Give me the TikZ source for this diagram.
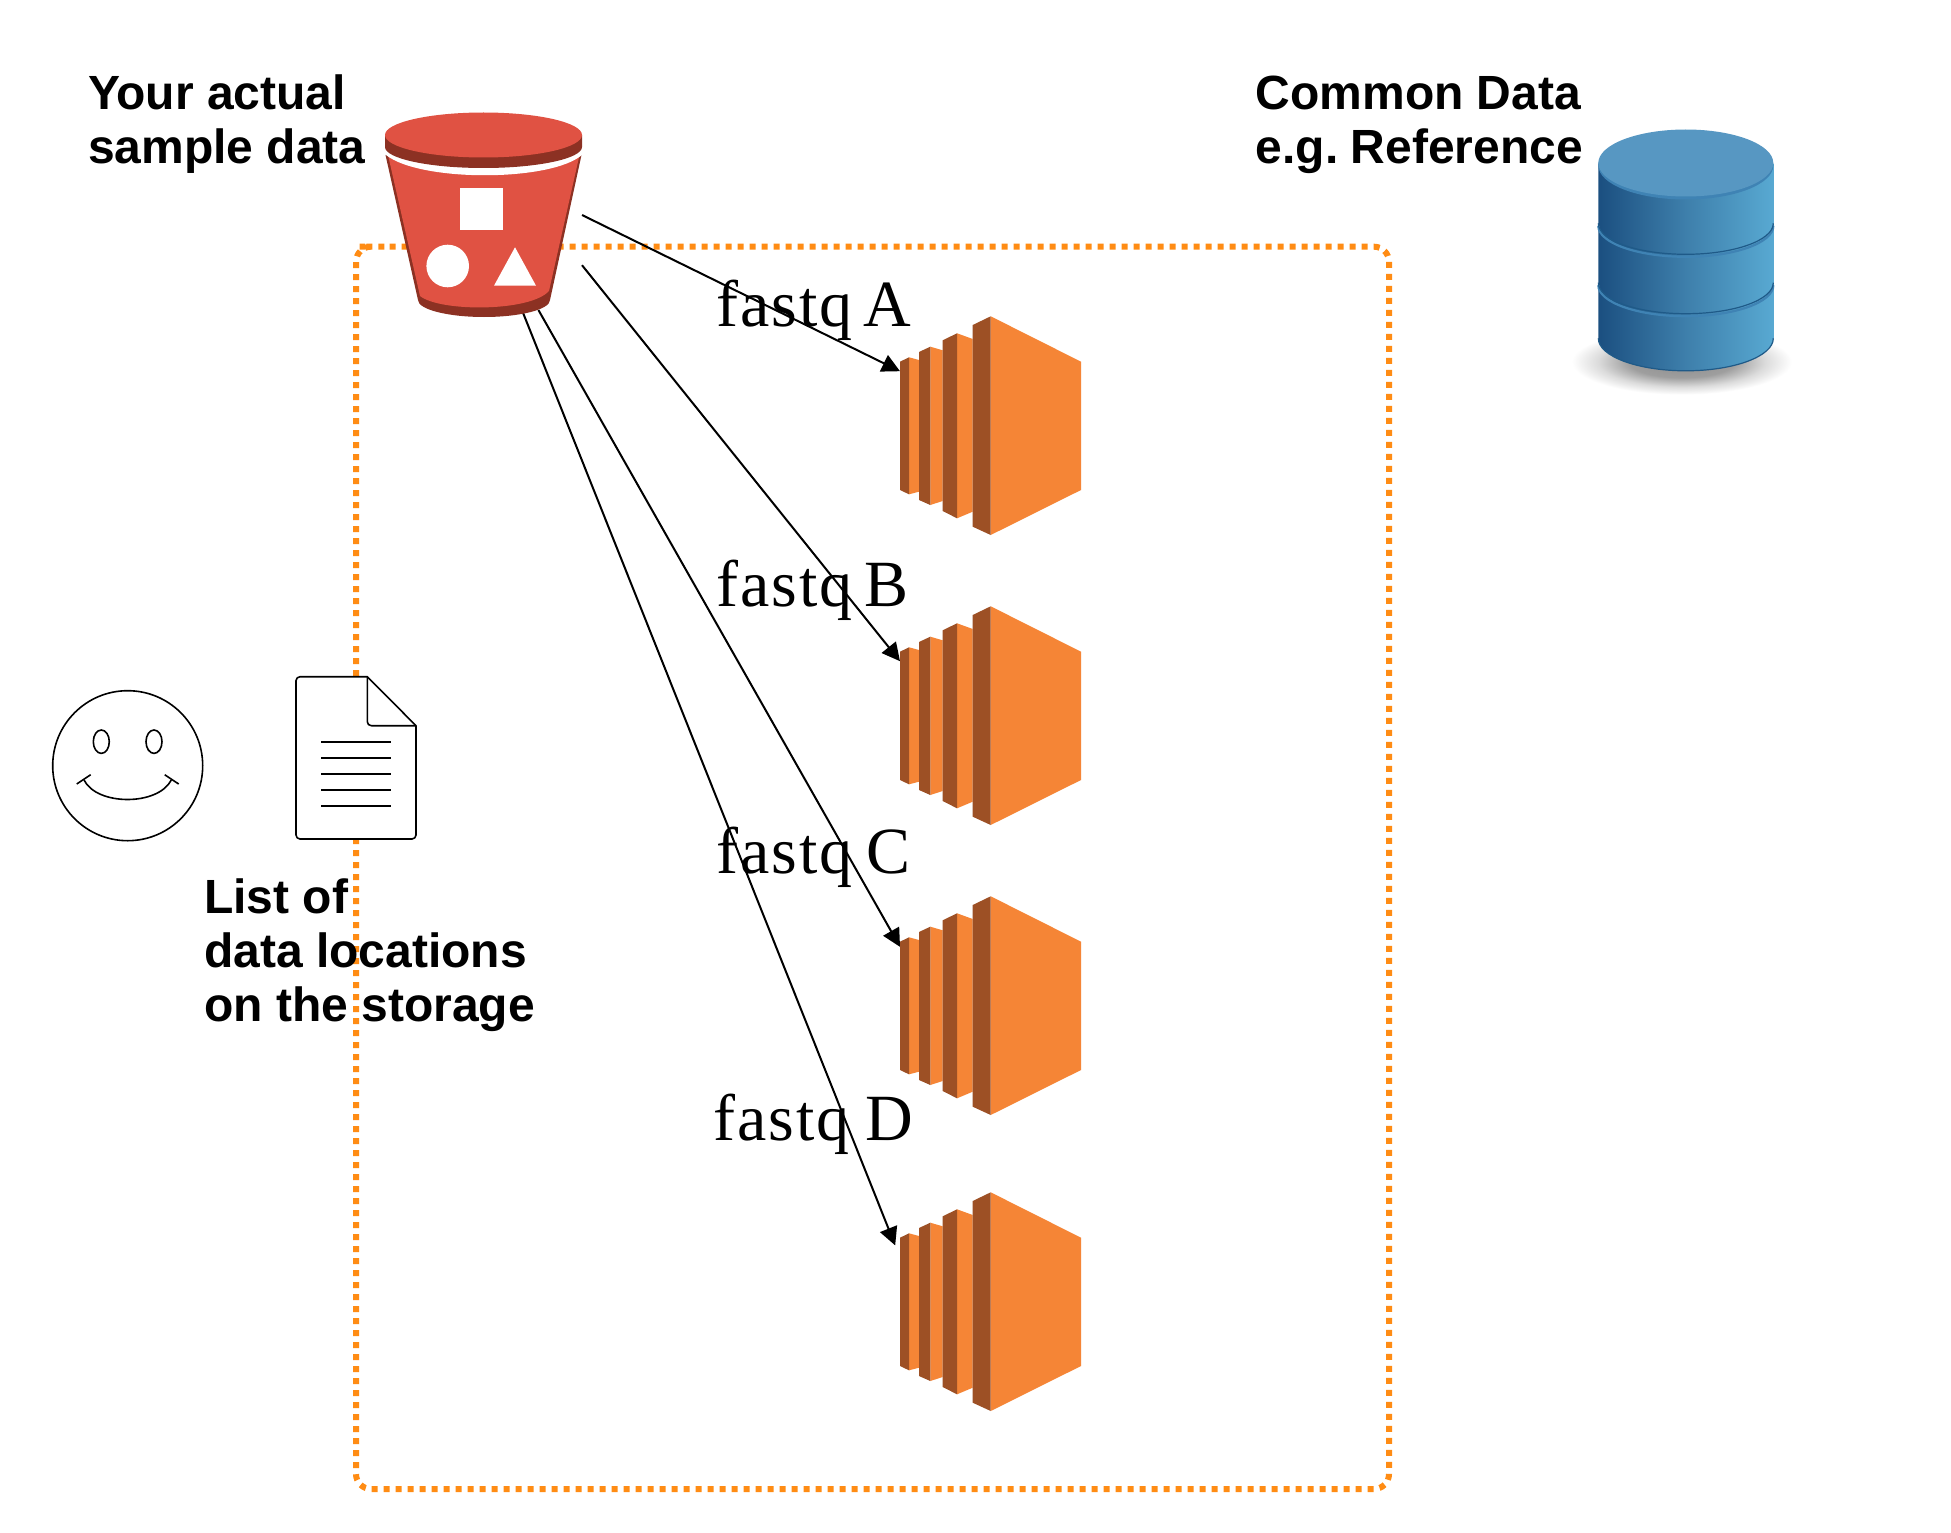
\documentclass[tikz,border=0pt]{standalone}
\usepackage{fontspec}
\setmainfont{Liberation Serif}
\newfontfamily\labelfont{Liberation Sans}[BoldFont={Liberation Sans Bold}]
\usetikzlibrary{arrows.meta,calc}
\definecolor{bucketred}{HTML}{E05243}
\definecolor{bucketdark}{HTML}{8C3123}
\definecolor{ecorange}{HTML}{F58536}
\definecolor{ecdark}{HTML}{9D5025}
\definecolor{boxorange}{HTML}{FF8C14}
\definecolor{cyltop}{HTML}{5797C2}
\definecolor{cylrim}{HTML}{3F83B4}
\definecolor{cylline}{HTML}{1F5A88}
\definecolor{cylleft}{HTML}{1B4F80}
\definecolor{cylmid}{HTML}{3E7FAB}
\definecolor{cylright}{HTML}{58A9D2}
\definecolor{shadowa}{gray}{0.55}
\definecolor{shadowb}{gray}{0.62}
\definecolor{shadowc}{gray}{0.86}
\pgfdeclarehorizontalshading{cylgrad}{100bp}{color(0bp)=(cylleft);color(25bp)=(cylleft);color(50bp)=(cylmid);color(75bp)=(cylright);color(100bp)=(cylright)}
\pgfdeclareradialshading{blurshadow}{\pgfpoint{0bp}{0bp}}{color(0bp)=(shadowa);color(12bp)=(shadowb);color(19bp)=(shadowc);color(25bp)=(white);color(100bp)=(white)}
\newcommand{\fastqword}{{\addfontfeature{LetterSpace=3}fastq}}
\tikzset{
  px/.style={x=1pt,y=-1pt},
  titletext/.style={font=\labelfont\bfseries\fontsize{48}{54}\selectfont,align=left,anchor=base west,inner sep=0pt,text=black},
  fastqtext/.style={font=\fontsize{66}{72}\selectfont,anchor=base west,inner sep=0pt,text=black},
  ecbox/.style={inner sep=0pt,outer sep=0pt,minimum width=181pt,minimum height=219pt},
  flow/.style={line width=2pt,-{Triangle[length=18pt,width=18pt]}},
  thin ink/.style={line width=1.6pt,line join=round},
  dotted frame/.style={draw=boxorange,line width=6pt,dash pattern=on 6pt off 6pt},
  instance/.pic={
    \fill[ecorange] (-81.7,41) -- (-71.7,43.7) -- (-71.7,175.4) -- (-81.7,178) -- cycle;
    \fill[ecdark] (-90.7,45.4) -- (-81.7,41) -- (-81.7,178) -- (-90.7,173.7) -- cycle;
    \fill[ecorange] (-60.4,30.4) -- (-48,34) -- (-48,184.7) -- (-60.4,188.7) -- cycle;
    \fill[ecdark] (-71.7,35.7) -- (-60.4,30.4) -- (-60.4,188.7) -- (-71.7,183.7) -- cycle;
    \fill[ecorange] (-33.7,17) -- (-18,22.7) -- (-18,195.4) -- (-33.7,202) -- cycle;
    \fill[ecdark] (-48,24) -- (-33.7,17) -- (-33.7,202) -- (-48,194.7) -- cycle;
    \fill[ecorange] (0,0) -- (90.3,45.4) -- (90.3,173.7) -- (0,218.7) -- cycle;
    \fill[ecdark] (-18,8.7) -- (0,0) -- (0,218.7) -- (-18,210.4) -- cycle;
  }
}
\begin{document}
\begin{tikzpicture}[px]
\useasboundingbox (0,0) rectangle (1951,1533);
\fill[white] (0,0) rectangle (1951,1533);

% dotted frame
\draw[dotted frame,rounded corners=15pt] (374.7,246.7) -- (1389,246.7) -- (1389,1489) -- (356,1489) -- (356,246.7) -- cycle;

% placement holders
\node[ecbox] (inst1) at (990.5,425.6) {};
\node[ecbox] (inst2) at (990.5,715.6) {};
\node[ecbox] (inst3) at (990.5,1005.6) {};
\node[ecbox] (inst4) at (990.5,1301.6) {};
\node[inner sep=0pt,outer sep=0pt,minimum width=197pt,minimum height=204pt] (bucket) at (483.5,215) {};

% instances
\path (990.7,316.3) pic {instance};
\path (990.7,606.3) pic {instance};
\path (990.7,896.3) pic {instance};
\path (990.7,1192.3) pic {instance};

% connectors
\draw[flow] (bucket.0.5) -- (inst1.149.8);
\draw[flow] (bucket.-27.3) -- (inst2.149.8);
\draw[flow,shorten <=-8pt] (bucket.-60.2) -- (inst3.147.5);
\draw[flow,shorten <=-8pt,shorten >=13pt] (bucket.-68.2) -- (inst4.154.3);

% bucket
\fill[bucketdark] (385.5,155) -- (418,300) arc[start angle=180,end angle=0,x radius=66,y radius=17] -- (581.5,155) -- cycle;
\fill[bucketred] (388,155) -- (420,296) .. controls (440,312) and (530,312) .. (549,291) -- (579.5,155) -- cycle;
\fill[white] (383,150) -- (585,150) -- (582,155) .. controls (550,182) and (420,182) .. (386,155) -- cycle;
\fill[bucketdark] (385,135) -- (385,147) arc[start angle=180,end angle=0,x radius=98.5,y radius=21] -- (582,135) -- cycle;
\fill[bucketred] (483.5,135) ellipse[x radius=98.5,y radius=22.5];
\fill[white] (460.3,187.7) rectangle (503.3,230);
\fill[white] (447.7,266) circle[radius=21.3];
\fill[white] (515,247.3) -- (536,285.7) -- (494,285.7) -- cycle;

% database
\shade[shading=blurshadow] (1681.7,361.7) ellipse[x radius=110,y radius=33];
\path[shading=cylgrad,shading angle=0] (1598.3,163.3) -- (1598.3,338.3) arc[start angle=180,end angle=0,x radius=87.5,y radius=32.5] -- (1773.3,163.3) -- cycle;
\draw[cylline,line width=1.2pt] (1598.3,338.3) arc[start angle=180,end angle=0,x radius=87.5,y radius=32.5];
\foreach \yy in {223.3,282.7}{
  \draw[cylrim,line width=2.2pt] (1598.3,\yy+2.5) arc[start angle=180,end angle=0,x radius=87.5,y radius=31];
  \draw[cylline,line width=1.2pt] (1598.3,\yy) arc[start angle=180,end angle=0,x radius=87.5,y radius=31];
}
\fill[cylrim] (1685.8,165.5) ellipse[x radius=87.5,y radius=34];
\fill[cyltop] (1685.8,163) ellipse[x radius=87.5,y radius=33.5];

% smiley
\draw[thin ink] (127.7,765.7) circle[radius=75];
\draw[thin ink] (101.3,741.7) ellipse[x radius=8,y radius=11.7];
\draw[thin ink] (154,741.7) ellipse[x radius=8,y radius=11.7];
\draw[thin ink] (84,780) .. controls (97,806) and (158,806) .. (171.3,780);
\draw[thin ink] (76.7,784) -- (90.7,774.7);
\draw[thin ink] (164.7,774.7) -- (178.7,784);

% document
\draw[thin ink,fill=white] (367.3,676.7) -- (300,676.7) arc[start angle=270,end angle=180,radius=4] -- (296,835) arc[start angle=180,end angle=90,radius=4] -- (412,839) arc[start angle=90,end angle=0,radius=4] -- (416,725.7) -- cycle;
\draw[thin ink] (367.3,676.7) -- (367.3,721.7) arc[start angle=180,end angle=90,radius=4] -- (416,725.7);
\foreach \yy in {741.7,757.7,773.7,789.7,805.7}{
  \draw[thin ink] (321.3,\yy) -- (390.7,\yy);
}

% labels
\node[titletext] (sample) at (88,164) {Your actual\\sample data};
\node[titletext] (common) at (1255.5,164) {Common Data\\e.g.\hspace{12.5pt}Reference};
\node[titletext] (listof) at (204,1021) {List of\\data locations\\on the storage};
\node[fastqtext] (fa) at (716,326.7) {\fastqword\hspace{11pt}A};
\node[fastqtext] (fb) at (716,606.7) {\fastqword\hspace{12pt}B};
\node[fastqtext] (fc) at (716,873.5) {\fastqword\hspace{14.5pt}C};
\node[fastqtext] (fd) at (713,1140) {\fastqword\hspace{16.5pt}D};
\end{tikzpicture}
\end{document}
